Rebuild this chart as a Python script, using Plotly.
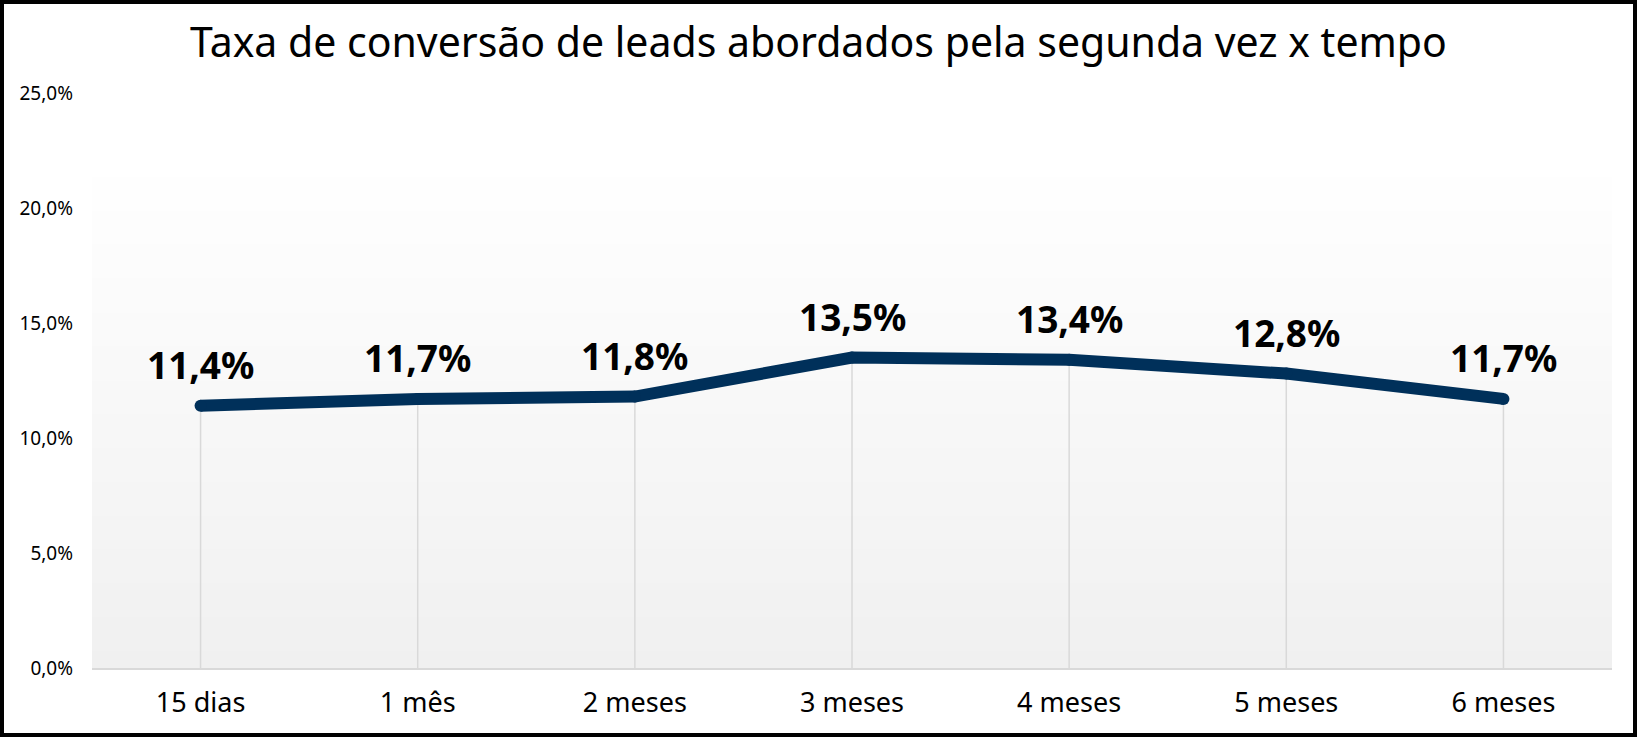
import plotly.graph_objects as go

categories = ["15 dias", "1 mês", "2 meses", "3 meses", "4 meses", "5 meses", "6 meses"]
rates = [0.114, 0.117, 0.118, 0.135, 0.134, 0.128, 0.117]
y_ticks = [0.0, 0.05, 0.10, 0.15, 0.20, 0.25]

W, H = 1637, 737
ML, MR, MT, MB = 92, 25, 93, 69
PW, PH = W - ML - MR, H - MT - MB

LINE_COLOR = "#00305a"
GRID_COLOR = "#d9d9d9"

fig = go.Figure()

# gradient background of plot area (white at top -> light grey at bottom)
grad_top_px = 160
top_paper = (H - MB - grad_top_px) / PH
n = 60
shapes = []
for i in range(n):
    f0 = i / n
    f1 = (i + 1) / n
    t = 1 - (f0 + f1) / 2  # 0 at top, 1 at bottom
    v = round(255 - t * 15)
    shapes.append(dict(type="rect", xref="paper", yref="paper",
                       x0=0, x1=1, y0=top_paper * f0, y1=top_paper * f1 + 0.002,
                       fillcolor=f"rgb({v},{v},{v})", line=dict(width=0), layer="below"))

# outer black border
bw = 4
shapes.append(dict(type="rect", xref="paper", yref="paper",
                   x0=(-ML + bw / 2) / PW, x1=(PW + MR - bw / 2) / PW,
                   y0=(-MB + bw / 2) / PH, y1=(PH + MT - bw / 2) / PH,
                   line=dict(color="black", width=bw), fillcolor="rgba(0,0,0,0)", layer="above"))

# drop lines from axis to each point
dx, dy = [], []
for c, r in zip(categories, rates):
    dx += [c, c, None]
    dy += [0, r, None]
fig.add_trace(go.Scatter(x=dx, y=dy, mode="lines", line=dict(color=GRID_COLOR, width=1.5),
                         hoverinfo="skip", showlegend=False))

fig.add_trace(go.Scatter(x=categories, y=rates, mode="lines+markers",
                         line=dict(color=LINE_COLOR, width=12),
                         marker=dict(color=LINE_COLOR, size=12),
                         showlegend=False))

annotations = []
for c, r in zip(categories, rates):
    annotations.append(dict(x=c, y=r, xref="x", yref="y",
                            text=f"{r*100:.1f}%".replace(".", ","),
                            showarrow=False, yanchor="middle", yshift=41,
                            font=dict(family="Noto Sans", size=37, color="black", weight="bold")))

fig.update_layout(
    width=W, height=H,
    margin=dict(l=ML, r=MR, t=MT, b=MB),
    paper_bgcolor="white", plot_bgcolor="rgba(0,0,0,0)",
    separators=",.",
    title=dict(text="Taxa de conversão de leads abordados pela segunda vez x tempo",
               x=0.5, xref="container", xanchor="center", y=1 - 43 / H, yanchor="middle",
               font=dict(family="Noto Sans", size=41, color="black")),
    shapes=shapes,
    annotations=annotations,
    xaxis=dict(type="category", range=[-0.5, len(categories) - 0.5],
               showgrid=False, showline=True, linecolor=GRID_COLOR, linewidth=1.5,
               ticks="", ticklabelstandoff=10,
               tickfont=dict(family="Noto Sans", size=27, color="black"), zeroline=False),
    yaxis=dict(range=[0, 0.25], tickvals=y_ticks, tickformat=".1%",
               showgrid=False, showline=False, zeroline=False, ticks="",
               ticklabelstandoff=18,
               tickfont=dict(family="Noto Sans", size=19, color="black")),
)

fig.write_html("out.html")
